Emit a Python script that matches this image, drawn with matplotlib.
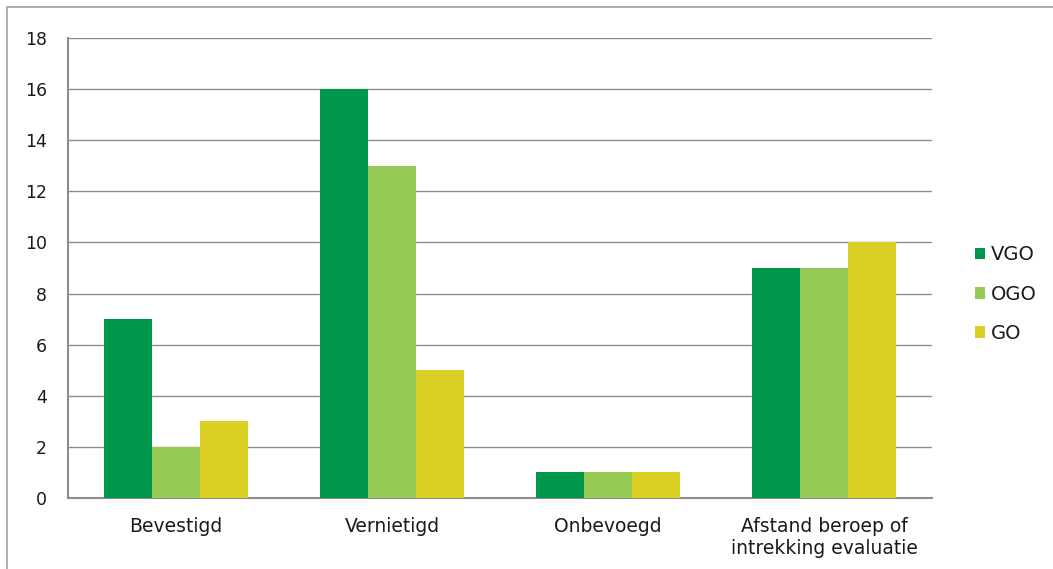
import numpy as np
import matplotlib.pyplot as plt
from matplotlib.patches import Rectangle

categories = ['Bevestigd', 'Vernietigd', 'Onbevoegd', 'Afstand beroep of\nintrekking evaluatie']
series = ['VGO', 'OGO', 'GO']
vgo = [7, 16, 1, 9]
ogo = [2, 13, 1, 9]
go = [3, 5, 1, 10]
colors = ['#00964B', '#96CA55', '#DCCF24']

plt.rcParams['font.family'] = 'DejaVu Sans'
plt.rcParams['font.size'] = 12

fig = plt.figure(figsize=(10.53, 5.69), dpi=100)
ax = fig.add_axes([68 / 1053, 1 - 498 / 569, (932 - 68) / 1053, (498 - 38) / 569])

# outer frame of the chart
fig.patches.append(Rectangle((7 / 1053, -0.1), 1.2, (569 - 7) / 569 + 0.1,
                             transform=fig.transFigure, fill=False,
                             edgecolor='#A0A0A0', linewidth=1.2))

x = np.arange(len(categories))
w = 0.222
for i, (vals, name) in enumerate(zip([vgo, ogo, go], series)):
    ax.bar(x + (i - 1) * w, vals, width=w, color=colors[i], label=name, zorder=3)

ax.set_xlim(-0.5, len(categories) - 0.5)
ax.set_ylim(0, 18)
ax.set_yticks(range(0, 19, 2))
ax.grid(axis='y', color='#8C8C8C', linewidth=1)
ax.set_axisbelow(True)
for s in ['top', 'right']:
    ax.spines[s].set_visible(False)
for s in ['left', 'bottom']:
    ax.spines[s].set_color('#8C8C8C')
    ax.spines[s].set_linewidth(1.5)
ax.tick_params(axis='y', length=0, pad=15, colors='#1A1A1A', labelsize=12.5)
ax.tick_params(axis='x', length=0, pad=14, colors='#1A1A1A', labelsize=13.5)
ax.set_xticks(x)
ax.set_xticklabels(categories, linespacing=1.15)

leg = ax.legend(loc='center left', bbox_to_anchor=(1.029, 0.443), frameon=False,
                handlelength=0.55, handleheight=0.55, handletextpad=0.3,
                labelspacing=1.05, fontsize=14)
for t in leg.get_texts():
    t.set_color('#1A1A1A')

fig.savefig('out.png', dpi=100)
